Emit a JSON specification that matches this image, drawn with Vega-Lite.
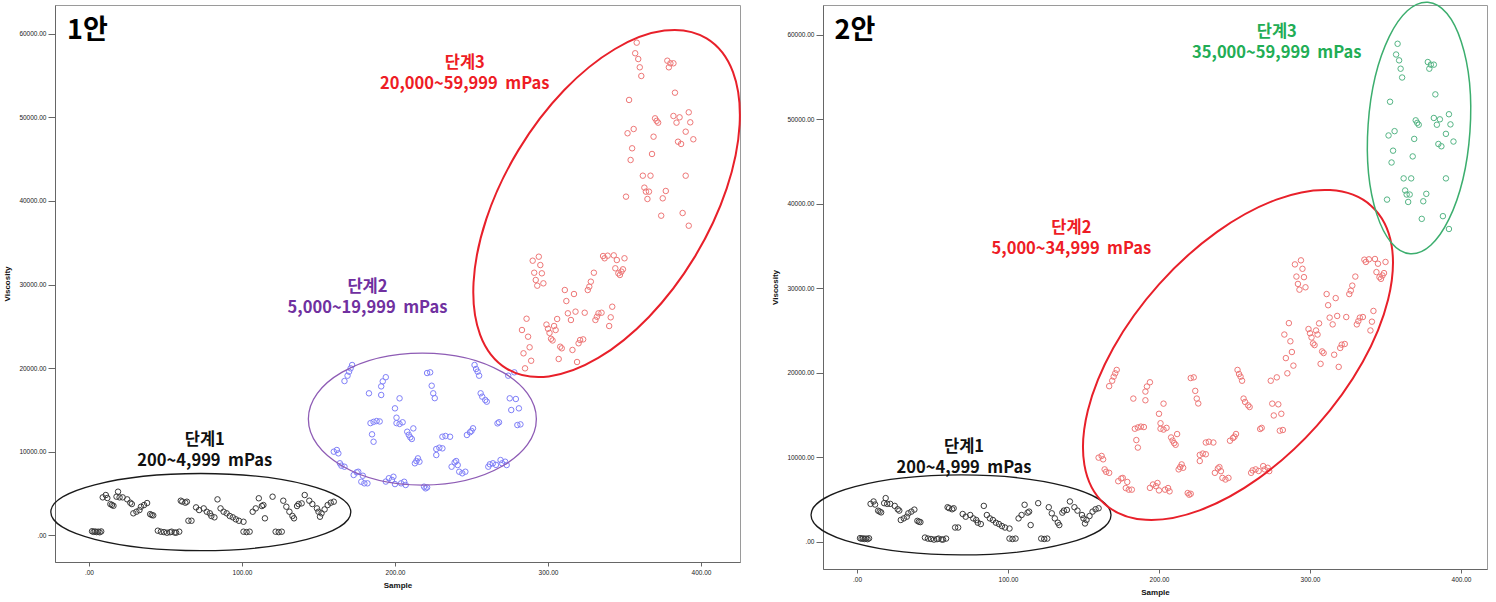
{
"$schema":"https://vega.github.io/schema/vega-lite/v6.json",
"padding":{"left":3,"top":-2,"right":0,"bottom":0},
"background":"white",
"bounds":"flush",
"spacing":83,
"resolve":{"scale":{"color":"independent"}},
"config":{
 "view":{"stroke":"#9a9a9a","strokeWidth":1},
 "axis":{"labelFont":"Liberation Sans","labelFontSize":6.5,"labelColor":"#222","titleFont":"Liberation Sans","titleFontSize":8,"titleFontWeight":"bold","titleColor":"#111","domainColor":"#666","tickColor":"#666","grid":false,"labelPadding":2},
 "axisY":{"tickSize":7,"titlePadding":7},
 "axisX":{"tickSize":4,"labelPadding":3,"titlePadding":6}
},
"datasets":{
"pts":[
{"s":2,"v":450,"a":1,"b":1},{"s":3,"v":380,"a":1,"b":1},{"s":4,"v":420,"a":1,"b":1},{"s":5,"v":350,"a":1,"b":1},{"s":6,"v":400,"a":1,"b":1},{"s":7,"v":330,"a":1,"b":1},{"s":8,"v":430,"a":1,"b":1},
{"s":9,"v":4510,"a":1,"b":1},{"s":11,"v":4790,"a":1,"b":1},{"s":12,"v":4430,"a":1,"b":1},
{"s":14,"v":3700,"a":1,"b":1},{"s":15,"v":3600,"a":1,"b":1},{"s":16,"v":3500,"a":1,"b":1},
{"s":18,"v":4590,"a":1,"b":1},{"s":19,"v":5190,"a":1,"b":1},{"s":20,"v":4510,"a":1,"b":1},{"s":22,"v":4510,"a":1,"b":1},{"s":25,"v":4270,"a":1,"b":1},{"s":27,"v":3870,"a":1,"b":1},{"s":28,"v":3710,"a":1,"b":1},
{"s":29,"v":2600,"a":1,"b":1},{"s":31,"v":2790,"a":1,"b":1},{"s":33,"v":2990,"a":1,"b":1},
{"s":34,"v":3390,"a":1,"b":1},{"s":36,"v":3590,"a":1,"b":1},{"s":38,"v":3830,"a":1,"b":1},
{"s":40,"v":2500,"a":1,"b":1},{"s":41,"v":2400,"a":1,"b":1},{"s":42,"v":2350,"a":1,"b":1},
{"s":45,"v":520,"a":1,"b":1},{"s":47,"v":400,"a":1,"b":1},{"s":49,"v":350,"a":1,"b":1},{"s":51,"v":280,"a":1,"b":1},{"s":53,"v":330,"a":1,"b":1},{"s":54,"v":400,"a":1,"b":1},{"s":56,"v":300,"a":1,"b":1},{"s":57,"v":280,"a":1,"b":1},{"s":59,"v":400,"a":1,"b":1},
{"s":60,"v":4110,"a":1,"b":1},{"s":61,"v":4000,"a":1,"b":1},{"s":63,"v":3870,"a":1,"b":1},{"s":64,"v":3990,"a":1,"b":1},
{"s":65,"v":1710,"a":1,"b":1},{"s":67,"v":1710,"a":1,"b":1},
{"s":70,"v":3310,"a":1,"b":1},{"s":72,"v":2990,"a":1,"b":1},{"s":75,"v":3190,"a":1,"b":1},{"s":77,"v":2790,"a":1,"b":1},{"s":79,"v":2600,"a":1,"b":1},{"s":80,"v":2280,"a":1,"b":1},{"s":82,"v":2120,"a":1,"b":1},
{"s":84,"v":4270,"a":1,"b":1},
{"s":86,"v":3190,"a":1,"b":1},{"s":88,"v":2790,"a":1,"b":1},{"s":90,"v":2600,"a":1,"b":1},{"s":92,"v":2280,"a":1,"b":1},{"s":94,"v":2120,"a":1,"b":1},{"s":96,"v":1880,"a":1,"b":1},{"s":98,"v":1710,"a":1,"b":1},{"s":101,"v":1590,"a":1,"b":1},
{"s":101,"v":400,"a":1,"b":1},{"s":103,"v":350,"a":1,"b":1},{"s":105,"v":400,"a":1,"b":1},
{"s":107,"v":2790,"a":1,"b":1},{"s":109,"v":3190,"a":1,"b":1},{"s":111,"v":4400,"a":1,"b":1},{"s":113,"v":3470,"a":1,"b":1},{"s":114,"v":3590,"a":1,"b":1},{"s":115,"v":2000,"a":1,"b":1},
{"s":120,"v":4590,"a":1,"b":1},
{"s":122,"v":400,"a":1,"b":1},{"s":124,"v":350,"a":1,"b":1},{"s":126,"v":400,"a":1,"b":1},
{"s":127,"v":4110,"a":1,"b":1},{"s":129,"v":3390,"a":1,"b":1},{"s":131,"v":2790,"a":1,"b":1},{"s":133,"v":2280,"a":1,"b":1},{"s":134,"v":2000,"a":1,"b":1},
{"s":136,"v":3470,"a":1,"b":1},{"s":137,"v":3710,"a":1,"b":1},{"s":139,"v":3790,"a":1,"b":1},
{"s":141,"v":4790,"a":1,"b":1},
{"s":144,"v":4110,"a":1,"b":1},{"s":146,"v":3710,"a":1,"b":1},{"s":149,"v":3190,"a":1,"b":1},{"s":150,"v":2790,"a":1,"b":1},{"s":152,"v":2600,"a":1,"b":1},{"s":151,"v":2190,"a":1,"b":1},
{"s":154,"v":3070,"a":1,"b":1},{"s":156,"v":3590,"a":1,"b":1},{"s":158,"v":3870,"a":1,"b":1},{"s":160,"v":3990,"a":1,"b":1},
{"s":160,"v":9980,"a":2,"b":2},{"s":162,"v":10180,"a":2,"b":2},{"s":163,"v":9780,"a":2,"b":2},
{"s":164,"v":8590,"a":2,"b":2},{"s":165,"v":8300,"a":2,"b":2},{"s":167,"v":8180,"a":2,"b":2},
{"s":167,"v":18440,"a":2,"b":2},{"s":169,"v":19080,"a":2,"b":2},{"s":170,"v":19560,"a":2,"b":2},{"s":171,"v":19960,"a":2,"b":2},{"s":172,"v":20360,"a":2,"b":2},
{"s":173,"v":7190,"a":2,"b":2},{"s":175,"v":7510,"a":2,"b":2},{"s":176,"v":7580,"a":2,"b":2},{"s":179,"v":7100,"a":2,"b":2},{"s":178,"v":6380,"a":2,"b":2},{"s":180,"v":6190,"a":2,"b":2},{"s":182,"v":6190,"a":2,"b":2},
{"s":183,"v":16970,"a":2,"b":2},
{"s":184,"v":13400,"a":2,"b":2},{"s":186,"v":13550,"a":2,"b":2},{"s":188,"v":13650,"a":2,"b":2},{"s":190,"v":13600,"a":2,"b":2},
{"s":185,"v":12060,"a":2,"b":2},{"s":186,"v":11170,"a":2,"b":2},
{"s":191,"v":16770,"a":2,"b":2},{"s":191,"v":17800,"a":2,"b":2},{"s":192,"v":18400,"a":2,"b":2},{"s":194,"v":18900,"a":2,"b":2},
{"s":194,"v":6400,"a":2,"b":2},{"s":196,"v":6800,"a":2,"b":2},{"s":199,"v":6980,"a":2,"b":2},{"s":198,"v":6600,"a":2,"b":2},{"s":200,"v":6100,"a":2,"b":2},
{"s":200,"v":15170,"a":2,"b":2},{"s":201,"v":14050,"a":2,"b":2},{"s":203,"v":16370,"a":2,"b":2},
{"s":201,"v":13400,"a":2,"b":2},{"s":203,"v":13300,"a":2,"b":2},{"s":205,"v":13500,"a":2,"b":2},
{"s":204,"v":6190,"a":2,"b":2},{"s":206,"v":6380,"a":2,"b":2},{"s":207,"v":5990,"a":2,"b":2},
{"s":208,"v":12370,"a":2,"b":2},{"s":209,"v":12000,"a":2,"b":2},{"s":210,"v":11700,"a":2,"b":2},{"s":211,"v":11500,"a":2,"b":2},{"s":212,"v":12770,"a":2,"b":2},
{"s":213,"v":8590,"a":2,"b":2},{"s":214,"v":8860,"a":2,"b":2},{"s":215,"v":9180,"a":2,"b":2},{"s":216,"v":8780,"a":2,"b":2},
{"s":219,"v":5790,"a":2,"b":2},{"s":220,"v":5590,"a":2,"b":2},{"s":221,"v":5700,"a":2,"b":2},
{"s":221,"v":19400,"a":2,"b":2},{"s":223,"v":19480,"a":2,"b":2},{"s":224,"v":17880,"a":2,"b":2},{"s":225,"v":16970,"a":2,"b":2},{"s":226,"v":16390,"a":2,"b":2},
{"s":227,"v":10300,"a":2,"b":2},{"s":229,"v":10460,"a":2,"b":2},{"s":231,"v":10380,"a":2,"b":2},{"s":227,"v":9580,"a":2,"b":2},
{"s":231,"v":11770,"a":2,"b":2},{"s":233,"v":11860,"a":2,"b":2},{"s":236,"v":11770,"a":2,"b":2},
{"s":237,"v":8180,"a":2,"b":2},{"s":239,"v":8700,"a":2,"b":2},{"s":240,"v":8860,"a":2,"b":2},{"s":241,"v":8380,"a":2,"b":2},{"s":242,"v":7580,"a":2,"b":2},{"s":244,"v":7390,"a":2,"b":2},{"s":246,"v":7580,"a":2,"b":2},
{"s":247,"v":11980,"a":2,"b":2},{"s":249,"v":12300,"a":2,"b":2},{"s":250,"v":12460,"a":2,"b":2},{"s":251,"v":12780,"a":2,"b":2},
{"s":252,"v":20360,"a":2,"b":2},{"s":253,"v":19880,"a":2,"b":2},{"s":254,"v":19560,"a":2,"b":2},{"s":255,"v":19080,"a":2,"b":2},
{"s":256,"v":16970,"a":2,"b":2},{"s":257,"v":16570,"a":2,"b":2},{"s":259,"v":16170,"a":2,"b":2},{"s":260,"v":15970,"a":2,"b":2},
{"s":261,"v":8180,"a":2,"b":2},{"s":262,"v":8470,"a":2,"b":2},{"s":264,"v":8590,"a":2,"b":2},{"s":266,"v":8400,"a":2,"b":2},
{"s":267,"v":13370,"a":2,"b":2},{"s":268,"v":13500,"a":2,"b":2},
{"s":269,"v":8980,"a":2,"b":2},{"s":270,"v":8590,"a":2,"b":2},{"s":272,"v":8780,"a":2,"b":2},{"s":273,"v":8380,"a":2,"b":2},
{"s":274,"v":19080,"a":2,"b":2},{"s":278,"v":19480,"a":2,"b":2},
{"s":275,"v":16370,"a":2,"b":2},{"s":279,"v":16290,"a":2,"b":2},
{"s":276,"v":14970,"a":2,"b":2},{"s":281,"v":15170,"a":2,"b":2},
{"s":280,"v":13170,"a":2,"b":2},{"s":282,"v":13250,"a":2,"b":2},
{"s":283,"v":24550,"a":3,"b":2},{"s":284,"v":21760,"a":3,"b":2},{"s":285,"v":19960,"a":3,"b":2},{"s":286,"v":25900,"a":3,"b":2},{"s":287,"v":23750,"a":3,"b":2},{"s":288,"v":22480,"a":3,"b":2},{"s":289,"v":20870,"a":3,"b":2},
{"s":290,"v":32850,"a":3,"b":2},{"s":291,"v":31410,"a":3,"b":2},{"s":292,"v":30540,"a":3,"b":2},{"s":293,"v":29860,"a":3,"b":2},{"s":294,"v":33330,"a":3,"b":2},{"s":295,"v":32330,"a":3,"b":2},{"s":296,"v":31340,"a":3,"b":2},{"s":297,"v":30140,"a":3,"b":2},
{"s":299,"v":25200,"a":3,"b":2},{"s":300,"v":24700,"a":3,"b":2},{"s":301,"v":24200,"a":3,"b":2},{"s":302,"v":23500,"a":3,"b":2},{"s":303,"v":23300,"a":3,"b":2},
{"s":304,"v":25030,"a":3,"b":2},{"s":305,"v":24550,"a":3,"b":2},{"s":306,"v":25870,"a":3,"b":2},{"s":307,"v":21080,"a":3,"b":2},{"s":308,"v":22550,"a":3,"b":2},{"s":309,"v":22360,"a":3,"b":2},
{"s":311,"v":29340,"a":3,"b":2},{"s":312,"v":28020,"a":3,"b":2},{"s":313,"v":26550,"a":3,"b":2},{"s":315,"v":25750,"a":3,"b":2},{"s":316,"v":22160,"a":3,"b":2},{"s":317,"v":28860,"a":3,"b":2},{"s":318,"v":26750,"a":3,"b":2},{"s":319,"v":20720,"a":3,"b":2},
{"s":320,"v":22960,"a":3,"b":2},{"s":321,"v":23350,"a":3,"b":2},{"s":323,"v":23430,"a":3,"b":2},{"s":324,"v":26620,"a":3,"b":2},
{"s":326,"v":29340,"a":3,"b":2},{"s":327,"v":29740,"a":3,"b":2},{"s":328,"v":30340,"a":3,"b":2},{"s":330,"v":31410,"a":3,"b":2},
{"s":331,"v":25750,"a":3,"b":2},{"s":332,"v":26140,"a":3,"b":2},{"s":333,"v":26550,"a":3,"b":2},{"s":335,"v":26620,"a":3,"b":2},
{"s":336,"v":33410,"a":3,"b":2},{"s":337,"v":33140,"a":3,"b":2},{"s":339,"v":33450,"a":3,"b":2},{"s":343,"v":33490,"a":3,"b":2},
{"s":340,"v":25030,"a":3,"b":2},{"s":341,"v":26070,"a":3,"b":2},{"s":342,"v":27340,"a":3,"b":2},
{"s":344,"v":31940,"a":3,"b":2},{"s":345,"v":32930,"a":3,"b":2},{"s":346,"v":31340,"a":3,"b":2},{"s":347,"v":31140,"a":3,"b":2},{"s":348,"v":31540,"a":3,"b":2},{"s":349,"v":31820,"a":3,"b":2},{"s":350,"v":33140,"a":3,"b":2},
{"s":351,"v":40520,"a":3,"b":3},{"s":352,"v":48110,"a":3,"b":3},{"s":353,"v":52100,"a":3,"b":3},{"s":354,"v":44910,"a":3,"b":3},{"s":355,"v":46310,"a":3,"b":3},{"s":356,"v":48620,"a":3,"b":3},{"s":357,"v":57690,"a":3,"b":3},{"s":358,"v":58960,"a":3,"b":3},{"s":359,"v":57000,"a":3,"b":3},{"s":360,"v":56010,"a":3,"b":3},{"s":361,"v":54970,"a":3,"b":3},
{"s":362,"v":43030,"a":3,"b":3},{"s":363,"v":41600,"a":3,"b":3},{"s":364,"v":41120,"a":3,"b":3},{"s":365,"v":40240,"a":3,"b":3},{"s":366,"v":41120,"a":3,"b":3},{"s":367,"v":43030,"a":3,"b":3},{"s":368,"v":45630,"a":3,"b":3},{"s":369,"v":47700,"a":3,"b":3},{"s":370,"v":49900,"a":3,"b":3},{"s":371,"v":49600,"a":3,"b":3},{"s":372,"v":49380,"a":3,"b":3},
{"s":374,"v":38240,"a":3,"b":3},{"s":375,"v":40320,"a":3,"b":3},{"s":377,"v":41200,"a":3,"b":3},
{"s":378,"v":56800,"a":3,"b":3},{"s":379,"v":56010,"a":3,"b":3},{"s":380,"v":56490,"a":3,"b":3},{"s":382,"v":56490,"a":3,"b":3},{"s":383,"v":52970,"a":3,"b":3},
{"s":382,"v":50180,"a":3,"b":3},{"s":384,"v":49380,"a":3,"b":3},{"s":386,"v":50020,"a":3,"b":3},{"s":385,"v":47100,"a":3,"b":3},{"s":387,"v":46830,"a":3,"b":3},{"s":388,"v":38560,"a":3,"b":3},{"s":390,"v":48300,"a":3,"b":3},{"s":390,"v":43030,"a":3,"b":3},{"s":392,"v":37040,"a":3,"b":3},{"s":392,"v":50620,"a":3,"b":3},{"s":393,"v":49420,"a":3,"b":3},{"s":395,"v":47390,"a":3,"b":3}
]
},
"hconcat":[
{
 "width":685,"height":557,
 "encoding":{
  "x":{"field":"s","type":"quantitative","scale":{"domain":[-22.2,425.5],"nice":false,"zero":false},"axis":{"title":"Sample","values":[0,100,200,300,400],"labelExpr":"datum.value == 0 ? '.00' : format(datum.value, '.2f')"}},
  "y":{"field":"v","type":"quantitative","scale":{"domain":[-3230,63470],"nice":false,"zero":false},"axis":{"title":"Viscosity","values":[0,10000,20000,30000,40000,50000,60000],"labelExpr":"datum.value == 0 ? '.00' : format(datum.value, '.2f')"}}
 },
 "layer":[
  {"data":{"name":"pts"},"mark":{"type":"point","shape":"circle","filled":false,"size":30,"strokeWidth":1,"opacity":1},
   "encoding":{"color":{"field":"a","type":"nominal","scale":{"domain":[1,2,3],"range":["#3a3a3a","#8080f8","#ee7777"]},"legend":null}}},
  {"data":{"values":[{"s":73.1,"v":2750}]},"mark":{"type":"point","shape":"M1,0C1,0.1419,0.5523,0.257,0,0.257C-0.5523,0.257,-1,0.1419,-1,0C-1,-0.1419,-0.5523,-0.257,0,-0.257C0.5523,-0.257,1,-0.1419,1,0Z","size":90000,"filled":false,"color":"#1a1a1a","strokeWidth":1.3,"opacity":1}},
  {"data":{"values":[{"s":217.9,"v":13890}]},"mark":{"type":"point","shape":"M1,0C1,0.3198,0.5523,0.579,0,0.579C-0.5523,0.579,-1,0.3198,-1,0C-1,-0.3198,-0.5523,-0.579,0,-0.579C0.5523,-0.579,1,-0.3198,1,0Z","size":51984,"filled":false,"color":"#8e5cb5","strokeWidth":1.3,"opacity":1}},
  {"data":{"values":[{"s":338.3,"v":39700}]},"mark":{"type":"point","shape":"M1,0C1,0.2949,0.5523,0.534,0,0.534C-0.5523,0.534,-1,0.2949,-1,0C-1,-0.2949,-0.5523,-0.534,0,-0.534C0.5523,-0.534,1,-0.2949,1,0Z","size":148996,"angle":301.2,"filled":false,"color":"#e8202a","strokeWidth":2,"opacity":1}},
  {"data":{"values":[{"s":-1,"v":60360,"t":"1안"}]},"mark":{"type":"text","font":"Noto Sans CJK KR","fontWeight":"bold","fontSize":27,"color":"#000","align":"center","baseline":"middle"},"encoding":{"text":{"field":"t"}}},
  {"data":{"values":[{"s":245.6,"v":56530,"t":["단계3","20,000~59,999\u00a0 mPas"]}]},"mark":{"type":"text","font":"Noto Sans CJK KR","fontWeight":"bold","fontSize":16.5,"lineHeight":21,"color":"#ee1c25","align":"center","baseline":"middle"},"encoding":{"text":{"field":"t"}}},
  {"data":{"values":[{"s":182,"v":29700,"t":["단계2","5,000~19,999\u00a0 mPas"]}]},"mark":{"type":"text","font":"Noto Sans CJK KR","fontWeight":"bold","fontSize":16.5,"lineHeight":21,"color":"#7030a0","align":"center","baseline":"middle"},"encoding":{"text":{"field":"t"}}},
  {"data":{"values":[{"s":75.7,"v":11380,"t":["단계1","200~4,999\u00a0 mPas"]}]},"mark":{"type":"text","font":"Noto Sans CJK KR","fontWeight":"bold","fontSize":16.5,"lineHeight":21,"color":"#111","align":"center","baseline":"middle"},"encoding":{"text":{"field":"t"}}}
 ]
},
{
 "width":664,"height":564,
 "encoding":{
  "x":{"field":"s","type":"quantitative","scale":{"domain":[-22.5,417.2],"nice":false,"zero":false},"axis":{"title":"Sample","values":[0,100,200,300,400],"labelExpr":"datum.value == 0 ? '.00' : format(datum.value, '.2f')"}},
  "y":{"field":"v","type":"quantitative","scale":{"domain":[-3200,63550],"nice":false,"zero":false},"axis":{"title":"Viscosity","values":[0,10000,20000,30000,40000,50000,60000],"labelExpr":"datum.value == 0 ? '.00' : format(datum.value, '.2f')"}}
 },
 "layer":[
  {"data":{"name":"pts"},"mark":{"type":"point","shape":"circle","filled":false,"size":30,"strokeWidth":1,"opacity":1},
   "encoding":{"color":{"field":"b","type":"nominal","scale":{"domain":[1,2,3],"range":["#3a3a3a","#ee7777","#55b585"]},"legend":null}}},
  {"data":{"values":[{"s":68.9,"v":3200}]},"mark":{"type":"point","shape":"M1,0C1,0.1473,0.5523,0.267,0,0.267C-0.5523,0.267,-1,0.1473,-1,0C-1,-0.1473,-0.5523,-0.267,0,-0.267C0.5523,-0.267,1,-0.1473,1,0Z","size":90000,"filled":false,"color":"#1a1a1a","strokeWidth":1.3,"opacity":1}},
  {"data":{"values":[{"s":252.3,"v":22130}]},"mark":{"type":"point","shape":"M1,0C1,0.2927,0.5523,0.53,0,0.53C-0.5523,0.53,-1,0.2927,-1,0C-1,-0.2927,-0.5523,-0.53,0,-0.53C0.5523,-0.53,1,-0.2927,1,0Z","size":160000,"angle":311.8,"filled":false,"color":"#e8202a","strokeWidth":2,"opacity":1}},
  {"data":{"values":[{"s":372.2,"v":48990}]},"mark":{"type":"point","shape":"M0.0698,-0.9976C0.2929,-0.982,0.4425,-0.5227,0.404,0.0283C0.3655,0.5793,0.1534,1.0132,-0.0698,0.9976C-0.293,0.982,-0.4425,0.5227,-0.404,-0.0283C-0.3655,-0.5793,-0.1534,-1.0132,0.0698,-0.9976Z","size":63504,"filled":false,"color":"#3cae6e","strokeWidth":1.5,"opacity":1}},
  {"data":{"values":[{"s":-1.3,"v":60470,"t":"2안"}]},"mark":{"type":"text","font":"Noto Sans CJK KR","fontWeight":"bold","fontSize":27,"color":"#000","align":"center","baseline":"middle"},"encoding":{"text":{"field":"t"}}},
  {"data":{"values":[{"s":278,"v":60360,"t":["단계3","35,000~59,999\u00a0 mPas"]}]},"mark":{"type":"text","font":"Noto Sans CJK KR","fontWeight":"bold","fontSize":16.5,"lineHeight":21,"color":"#22ad55","align":"center","baseline":"middle"},"encoding":{"text":{"field":"t"}}},
  {"data":{"values":[{"s":142,"v":37160,"t":["단계2","5,000~34,999\u00a0 mPas"]}]},"mark":{"type":"text","font":"Noto Sans CJK KR","fontWeight":"bold","fontSize":16.5,"lineHeight":21,"color":"#ee1c25","align":"center","baseline":"middle"},"encoding":{"text":{"field":"t"}}},
  {"data":{"values":[{"s":70.9,"v":11240,"t":["단계1","200~4,999\u00a0 mPas"]}]},"mark":{"type":"text","font":"Noto Sans CJK KR","fontWeight":"bold","fontSize":16.5,"lineHeight":21,"color":"#111","align":"center","baseline":"middle"},"encoding":{"text":{"field":"t"}}}
 ]
}
]
}
